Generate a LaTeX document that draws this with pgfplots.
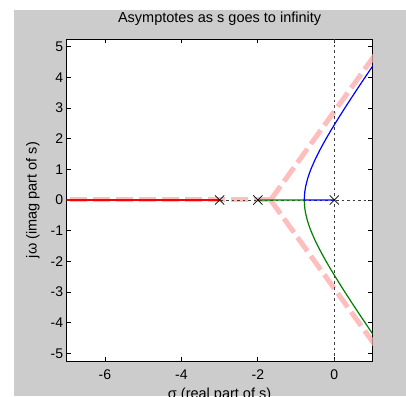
\documentclass[border=0pt]{standalone}
\usepackage{fontspec}
\setmainfont{Liberation Sans}
\usepackage{pgfplots}
\pgfplotsset{compat=1.18}
\definecolor{figgray}{RGB}{204,204,204}
\definecolor{asym}{RGB}{255,190,190}
\definecolor{mgreen}{RGB}{0,128,0}
\begin{document}
\begin{tikzpicture}
\useasboundingbox (0pt,0pt) rectangle (406pt,396pt);
\clip (0pt,0pt) rectangle (406pt,396pt);
\fill[figgray] (14pt,0pt) rectangle (406pt,386pt);
\begin{axis}[
  at={(66.7pt,35pt)}, anchor=south west,
  scale only axis, width=305.8pt, height=322pt,
  xmin=-7, xmax=1, ymin=-5.25, ymax=5.25,
  axis background/.style={fill=white},
  axis line style={black, line width=0.8pt},
  tick align=inside, major tick length=4.5pt,
  every tick/.style={black, line width=0.8pt},
  xtick={-6,-4,-2,0}, xticklabels={-6,-4,-2,0},
  ytick={-5,-4,-3,-2,-1,0,1,2,3,4,5},
  yticklabels={-5,-4,-3,-2,-1,0,1,2,3,4,5},
  ticklabel style={font=\fontsize{14}{16}\selectfont},
  xticklabel style={anchor=base, yshift=-18.3pt},
  title={Asymptotes as s goes to infinity},
  title style={at={(axis description cs:0.5,1)}, anchor=base, yshift=10.7pt, font=\fontsize{14.5}{17}\selectfont},
  xlabel={σ (real part of s)},
  xlabel style={at={(axis description cs:0.5,0)}, anchor=base, yshift=-37pt, font=\fontsize{14.5}{17}\selectfont},
  ylabel={jω (imag part of s)},
  ylabel style={at={(axis description cs:-0.1102,0.5)}, anchor=center, font=\fontsize{14.5}{17}\selectfont},
  clip=true,
]
% asymptotes
\addplot[asym, line width=5pt, dash pattern=on 17pt off 6pt] coordinates {(-1.6667,0) (1.2,4.965)};
\addplot[asym, line width=5pt, dash pattern=on 17pt off 6pt] coordinates {(-1.6667,0) (1.2,-4.965)};
\addplot[asym, line width=5pt, dash pattern=on 17pt off 6pt] coordinates {(-1.6667,0) (-7.2,0)};
% axis lines
\addplot[black!75, line width=0.8pt, dash pattern=on 2.5pt off 3pt] coordinates {(-7,0) (1,0)};
\addplot[black!75, line width=0.8pt, dash pattern=on 2.5pt off 3pt] coordinates {(0,-5.25) (0,5.25)};
% branches
\addplot[red, line width=1.3pt] coordinates {(-7.2,0) (-3,0)};
\addplot[mgreen, line width=1.2pt] coordinates {
(-2,0) (-0.7847,0) (-0.78,-0.159) (-0.77,-0.2805) (-0.75,-0.433) (-0.7,-0.6856) (-0.65,-0.876) (-0.6,-1.039) (-0.5,-1.323) (-0.4,-1.575) (-0.3,-1.808) (-0.2,-2.030) (-0.1,-2.243) (0,-2.449) (0.1,-2.651) (0.2,-2.850) (0.3,-3.045) (0.4,-3.237) (0.5,-3.428) (0.6,-3.617) (0.7,-3.804) (0.8,-3.990) (0.9,-4.175) (1.0,-4.359) (1.1,-4.54)};
\addplot[blue, line width=1.2pt] coordinates {
(0,0) (-0.7847,0) (-0.78,0.159) (-0.77,0.2805) (-0.75,0.433) (-0.7,0.6856) (-0.65,0.876) (-0.6,1.039) (-0.5,1.323) (-0.4,1.575) (-0.3,1.808) (-0.2,2.030) (-0.1,2.243) (0,2.449) (0.1,2.651) (0.2,2.850) (0.3,3.045) (0.4,3.237) (0.5,3.428) (0.6,3.617) (0.7,3.804) (0.8,3.990) (0.9,4.175) (1.0,4.359) (1.1,4.54)};
% poles
\addplot[only marks, mark=x, mark size=6.5pt, black, mark options={line width=0.7pt}] coordinates {(-3,0) (-2,0) (0,0)};
\end{axis}
\end{tikzpicture}
\end{document}
